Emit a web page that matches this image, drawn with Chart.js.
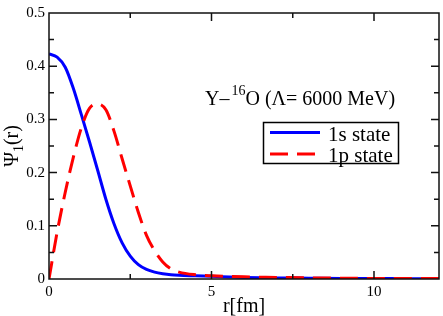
<!DOCTYPE html>
<html>
<head>
<meta charset="utf-8">
<script src="https://cdn.jsdelivr.net/npm/chart.js@4"></script>
<style>
  body { margin: 0; background: #fff; }
  #wrap { width: 443px; height: 316px; position: relative; }
</style>
</head>
<body>
<div id="wrap"><canvas id="wave"></canvas></div>
<script>
// r grid [fm] and the two radial wave functions
var rVals = [0, 0.25, 0.5, 0.75, 1.0, 1.25, 1.5, 1.75, 2.0, 2.25, 2.5, 2.75, 3.0, 3.25, 3.5, 3.75, 4.0, 4.5, 5, 6, 7, 8, 9, 10, 11, 12];
var s1Vals = [0.423, 0.417, 0.398, 0.358, 0.308, 0.257, 0.204, 0.150, 0.104, 0.068, 0.043, 0.027, 0.018, 0.013, 0.010, 0.008, 0.007, 0.006, 0.005, 0.003, 0.002, 0.0015, 0.001, 0.001, 0.0005, 0.0005];
var p1Vals = [0.0, 0.088, 0.163, 0.229, 0.285, 0.321, 0.329, 0.318, 0.278, 0.226, 0.175, 0.125, 0.082, 0.053, 0.032, 0.019, 0.013, 0.008, 0.006, 0.004, 0.003, 0.002, 0.0015, 0.001, 0.001, 0.001];
var seriesNames = ['1s state', '1p state'];
var xTickLabels = ['0', '5', '10'];
var yTickLabels = ['0', '0.1', '0.2', '0.3', '0.4', '0.5'];

var serif = '"Liberation Serif", "Times New Roman", serif';

function pts(ys) {
    var out = [];
    for (var i = 0; i < rVals.length; ++i) out.push({x: rVals[i], y: ys[i]});
    return out;
}

function isMajor(val, step) {
    var k = val / step;
    return Math.abs(k - Math.round(k)) < 1e-6;
}

// frame, inward ticks, axis titles, annotation and legend
var decor = {
    id: 'decor',
    afterDraw: function(chart) {
        var ctx = chart.ctx;
        var a = chart.chartArea;
        var xs = chart.scales.x, ys = chart.scales.y;
        ctx.save();
        ctx.strokeStyle = '#111';
        ctx.lineWidth = 1.5;
        ctx.strokeRect(a.left, a.top, a.right - a.left, a.bottom - a.top);

        xs.ticks.forEach(function(t) {
            var px = xs.getPixelForValue(t.value);
            if (px <= a.left + 1 || px >= a.right - 1) return;
            var len = isMajor(t.value, 5) ? 8 : 5;
            ctx.beginPath();
            ctx.moveTo(px, a.bottom); ctx.lineTo(px, a.bottom - len);
            ctx.moveTo(px, a.top); ctx.lineTo(px, a.top + len);
            ctx.stroke();
        });
        ys.ticks.forEach(function(t) {
            var py = ys.getPixelForValue(t.value);
            if (py <= a.top + 1 || py >= a.bottom - 1) return;
            var len = isMajor(t.value, 0.1) ? 8 : 5;
            ctx.beginPath();
            ctx.moveTo(a.left, py); ctx.lineTo(a.left + len, py);
            ctx.moveTo(a.right, py); ctx.lineTo(a.right - len, py);
            ctx.stroke();
        });

        ctx.fillStyle = '#000';
        // x title
        ctx.font = '20px ' + serif;
        ctx.textAlign = 'center';
        ctx.textBaseline = 'alphabetic';
        ctx.fillText('r[fm]', (a.left + a.right) / 2, 312);

        // y title, rotated
        ctx.save();
        ctx.translate(18, (a.top + a.bottom) / 2);
        ctx.rotate(-Math.PI / 2);
        ctx.textAlign = 'left';
        var big = '20px ' + serif, small = '14px ' + serif;
        ctx.font = big;
        var w1 = ctx.measureText('\u03A8').width;
        ctx.font = small;
        var w2 = ctx.measureText('1').width;
        ctx.font = big;
        var w3 = ctx.measureText('(r)').width;
        var x0 = -(w1 + w2 + w3) / 2;
        ctx.fillText('\u03A8', x0, 0);
        ctx.font = small;
        ctx.fillText('1', x0 + w1, 5);
        ctx.font = big;
        ctx.fillText('(r)', x0 + w1 + w2, 0);
        ctx.restore();

        // annotation
        ctx.textAlign = 'left';
        ctx.font = big;
        var tx = 205, ty = 105;
        ctx.fillText('Y\u2013', tx, ty);
        tx += ctx.measureText('Y\u2013').width + 2;
        ctx.font = small;
        ctx.fillText('16', tx, ty - 10);
        tx += ctx.measureText('16').width;
        ctx.font = big;
        ctx.fillText('O (\u039B= 6000 MeV)', tx, ty);

        // legend box
        ctx.lineWidth = 1.5;
        ctx.strokeStyle = '#000';
        ctx.strokeRect(263.5, 122.5, 135, 41);
        ctx.font = '21px ' + serif;
        var ds = chart.data.datasets;
        var rows = [132.5, 154];
        var order = [1, 0];
        for (var i = 0; i < 2; ++i) {
            var d = ds[order[i]];
            ctx.beginPath();
            ctx.lineWidth = 3;
            ctx.strokeStyle = d.borderColor;
            ctx.setLineDash(d.borderDash || []);
            ctx.moveTo(270, rows[i]); ctx.lineTo(320, rows[i]);
            ctx.stroke();
            ctx.setLineDash([]);
            ctx.fillText(d.label, 328, rows[i] + 8);
        }
        ctx.restore();
    }
};

var chartWave = new Chart(document.getElementById('wave'), {
    type: 'line',
    data: {
        datasets: [
            {
                label: seriesNames[1],
                data: pts(p1Vals),
                borderColor: '#ff0000',
                borderWidth: 3,
                borderDash: [18, 9],
                pointRadius: 0,
                fill: false,
                cubicInterpolationMode: 'monotone',
                order: 0
            },
            {
                label: seriesNames[0],
                data: pts(s1Vals),
                borderColor: '#0000ff',
                borderWidth: 3,
                pointRadius: 0,
                fill: false,
                cubicInterpolationMode: 'monotone',
                order: 1
            }
        ]
    },
    options: {
        responsive: true,
        maintainAspectRatio: false,
        animation: false,
        layout: { padding: { top: 6, right: 2, left: 0, bottom: 0 } },
        plugins: { legend: { display: false }, tooltip: { enabled: false } },
        scales: {
            x: {
                type: 'linear',
                min: 0,
                max: 12,
                grid: { display: false, drawTicks: false },
                border: { display: false },
                afterFit: function(s) { s.height = 37; },
                ticks: {
                    stepSize: 2.5,
                    padding: 4,
                    maxRotation: 0,
                    autoSkip: false,
                    color: '#000',
                    font: { family: serif, size: 15 },
                    callback: function(value) {
                        if (!isMajor(value, 5)) return '';
                        return xTickLabels[Math.round(value / 5)];
                    }
                }
            },
            y: {
                min: 0,
                max: 0.5,
                grid: { display: false, drawTicks: false },
                border: { display: false },
                afterFit: function(s) { s.width = 49; },
                ticks: {
                    stepSize: 0.05,
                    padding: 4,
                    autoSkip: false,
                    color: '#000',
                    font: { family: serif, size: 15 },
                    callback: function(value) {
                        if (!isMajor(value, 0.1)) return '';
                        return yTickLabels[Math.round(value / 0.1)];
                    }
                }
            }
        }
    },
    plugins: [decor]
});
</script>
</body>
</html>
